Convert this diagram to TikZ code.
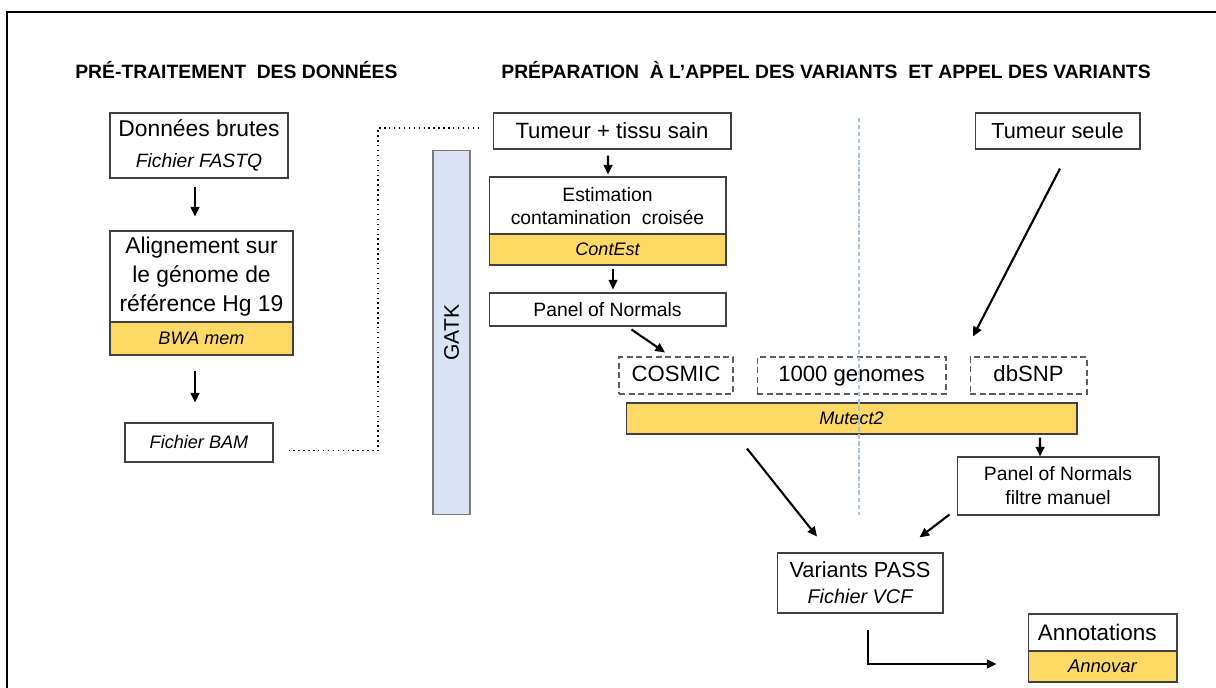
\documentclass[tikz,border=0pt]{standalone}
\usepackage{fontspec}
\setmainfont{Liberation Sans}
\usetikzlibrary{arrows.meta}
\definecolor{gold}{HTML}{FFD966}
\definecolor{gblue}{HTML}{DAE3F3}
\definecolor{bord}{HTML}{404040}
\definecolor{divc}{HTML}{A9C3D8}
\begin{document}
\begin{tikzpicture}[x=0.02cm,y=-0.02cm,
 box/.style={draw=bord,line width=0.6pt,fill=white,inner sep=0pt,align=center},
 ybox/.style={box,fill=gold,font=\fontsize{10.3}{12}\selectfont\itshape},
 dbox/.style={draw=bord!85,line width=0.6pt,dash pattern=on 3.5pt off 2pt,inner sep=0pt,text height=9pt,text depth=2.6pt,font=\fontsize{12.6}{15}\selectfont},
 arr/.style={line width=1.2pt,-{Triangle[length=5.5pt,width=5pt]}},
 dotc/.style={line width=0.8pt,dotted},
 divider/.style={draw=divc,line width=0.8pt,dash pattern=on 2.5pt off 1.5pt},
 title/.style={font=\bfseries\fontsize{11}{13}\selectfont,inner sep=0pt,anchor=west},
 frame/.style={line width=1.3pt}]
\useasboundingbox (0,0) rectangle (1216,688);
\draw[frame] (7,692) -- (7,12) -- (1220,12);

\node[title] (t1) at (75,70) {PRÉ-TRAITEMENT\ \ DES DONNÉES};
\node[title] (t2) at (501,70) {PRÉPARATION\ \ À L’APPEL DES VARIANTS\ \ ET APPEL DES VARIANTS};

% left column
\node[box,minimum width=3.56cm,minimum height=1.30cm,font=\fontsize{13}{17.6}\selectfont] (raw) at (199,145.5) {Données brutes\\{\fontsize{11}{17.6}\selectfont\itshape Fichier FASTQ}};
\node[box,minimum width=3.66cm,minimum height=1.82cm,font=\fontsize{13}{16.5}\selectfont] (aln) at (201.5,276.5) {Alignement sur\\le génome de\\référence Hg 19};
\node[ybox,minimum width=3.66cm,minimum height=0.66cm] (bwa) at (201.5,338.5) {BWA mem};
\node[box,minimum width=2.96cm,minimum height=0.78cm,font=\fontsize{10.3}{12}\selectfont\itshape] (bam) at (199,442.5) {Fichier BAM};

% GATK bar
\node[box,fill=gblue,draw=bord!70,rotate=90,minimum width=7.3cm,minimum height=0.74cm,font=\fontsize{12}{14}\selectfont] (gatk) at (451.5,332.5) {GATK};

% middle column
\node[box,minimum width=4.76cm,minimum height=0.72cm,font=\fontsize{12.6}{15}\selectfont] (tts) at (612,131) {Tumeur + tissu sain};
\node[box,minimum width=4.74cm,minimum height=1.16cm,font=\fontsize{11}{13}\selectfont] (est) at (607.5,206) {Estimation\\contamination\ \ croisée};
\node[ybox,minimum width=4.74cm,minimum height=0.62cm] (cont) at (607.5,249.5) {ContEst};
\node[box,minimum width=4.74cm,minimum height=0.66cm,font=\fontsize{11}{13}\selectfont] (pon) at (607.5,309.5) {Panel of Normals};
\node[box,minimum width=3.30cm,minimum height=0.72cm,font=\fontsize{12.4}{15}\selectfont] (ts) at (1057.5,131) {Tumeur seule};

\node[dbox,minimum width=2.28cm,minimum height=0.74cm] (cosmic) at (676,375.5) {COSMIC};
\node[dbox,minimum width=3.78cm,minimum height=0.74cm] (g1000) at (851.5,375.5) {1000 genomes};
\node[dbox,minimum width=2.34cm,minimum height=0.74cm] (dbsnp) at (1028.5,375.5) {dbSNP};
\node[ybox,minimum width=9.02cm,minimum height=0.62cm] (mut) at (851.5,418.5) {Mutect2};

\node[box,minimum width=4.04cm,minimum height=1.16cm,font=\fontsize{11}{13.6}\selectfont] (ponf) at (1058,486) {Panel of Normals\\filtre manuel};
\node[box,minimum width=3.32cm,minimum height=1.20cm,font=\fontsize{12.4}{14.7}\selectfont] (var) at (860,583) {Variants PASS\\{\fontsize{11.3}{14.7}\selectfont\itshape Fichier VCF}};
\node[box,minimum width=2.98cm,minimum height=0.74cm,font=\fontsize{12.8}{15}\selectfont] (ann) at (1102.5,632.5) {Annotations\hspace*{6pt}};
\node[ybox,minimum width=2.98cm,minimum height=0.62cm,font=\fontsize{10.5}{12}\selectfont\itshape] (annov) at (1102.5,666.5) {Annovar};

% connectors
\coordinate (dc) at (378,300);
\draw[arr] ([shift={(-4,8)}]raw.south) -- ([shift={(-6.5,-14)}]aln.north);
\draw[arr] ([shift={(-6.5,15)}]bwa.south) -- ([shift={(-4,-20)}]bam.north);
\draw[dotc] ([shift={(15,8)}]bam.east) -| (dc) |- ([shift={(-13,-3)}]tts.west);
\draw[arr] ([shift={(-4,6)}]tts.south) -- ([shift={(0.5,-2)}]est.north);
\draw[arr] ([shift={(5.5,3)}]cont.south) -- ([shift={(5.5,-3)}]pon.north);
\draw[arr] ([shift={(24,3)}]pon.south) -- ([shift={(-11,-4)}]cosmic.north);
\draw[arr] ([shift={(2.5,19)}]ts.south) -- ([shift={(-55.5,-20)}]dbsnp.north);
\draw[arr] ([shift={(188.5,3)}]mut.south) -- ([shift={(-18,0)}]ponf.north);
\draw[arr] ([shift={(-104.5,14)}]mut.south) -- ([shift={(-43,-16)}]var.north);
\draw[arr] ([shift={(-7,-1)}]ponf.south west) -- ([shift={(-24,-15)}]var.north east);
\draw[arr] ([shift={(8,16)}]var.south) |- ([shift={(-31,-2.5)}]annov.west);

% divider
\draw[divider] (859,118) -- (859,515);
\end{tikzpicture}
\end{document}
